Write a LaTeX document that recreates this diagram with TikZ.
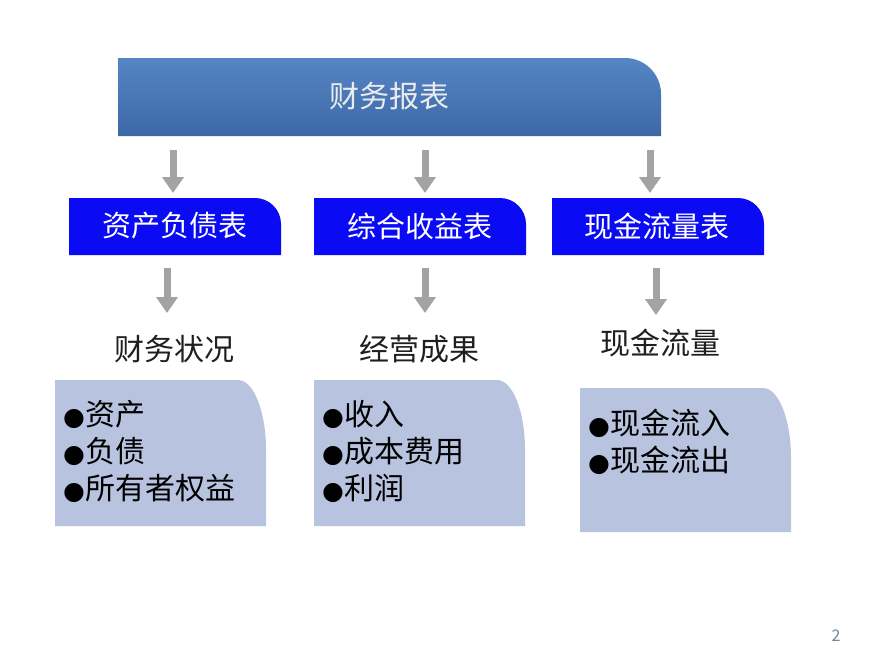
\documentclass[tikz,border=0pt]{standalone}
\usepackage{fontspec}
\setmainfont{Noto Sans CJK SC}
\newfontfamily\bulletfont{DejaVu Sans}
\usetikzlibrary{arrows.meta}
\definecolor{topA}{HTML}{5585C5}
\definecolor{topB}{HTML}{3D68A6}
\definecolor{boxblue}{HTML}{0A0AF5}
\definecolor{lightbox}{HTML}{B8C4DF}
\definecolor{arrgray}{HTML}{A3A3A3}
\definecolor{pagenum}{HTML}{7585A0}
\tikzset{
  arr/.style={draw=arrgray, line width=7pt, -{Triangle[width=21pt,length=16pt]}},
  headtxt/.style={text=white, font=\fontsize{29}{32}\selectfont, anchor=center},
  labeltxt/.style={text=black!88, font=\fontsize{30}{32}\selectfont, anchor=center},
  itemtxt/.style={text=black, font=\fontsize{30}{37}\selectfont, anchor=north west, align=left, inner sep=0pt},
}
\newcommand{\bul}{{\bulletfont\fontsize{25}{28}\selectfont ●}}
\begin{document}
\begin{tikzpicture}[x=1pt,y=-1pt]
\useasboundingbox (0,0) rectangle (896,667);
\fill[white] (0,0) rectangle (896,667);
% top bar
\shade[top color=topA, bottom color=topB] (118,136) -- (118,58) [rounded corners=36pt] -- (661,58) [sharp corners] -- (661,136) -- cycle;
\node[headtxt, text=white!92!black, font=\fontsize{30}{32}\selectfont] (top) at (389,96) {财务报表};
% blue boxes
\foreach \x/\n in {69/b1, 314/b2, 552/b3}{
  \fill[boxblue] (\x,255) -- (\x,198) [rounded corners=26pt] -- (\x+212,198) [sharp corners] -- (\x+212,255) -- cycle;
}
\node[headtxt] (h1) at (175,226) {资产负债表};
\node[headtxt] (h2) at (420,226) {综合收益表};
\node[headtxt] (h3) at (657,226) {现金流量表};
% arrows level 1
\coordinate (a1s) at (173,150); \coordinate (a1e) at (173,193);
\coordinate (a2s) at (425,150); \coordinate (a2e) at (425,193);
\coordinate (a3s) at (650,150); \coordinate (a3e) at (650,193);
\draw[arr] (a1s) -- (a1e);
\draw[arr] (a2s) -- (a2e);
\draw[arr] (a3s) -- (a3e);
% arrows level 2
\coordinate (c1s) at (167,268); \coordinate (c1e) at (167,313);
\coordinate (c2s) at (425,268); \coordinate (c2e) at (425,313);
\coordinate (c3s) at (656,268); \coordinate (c3e) at (656,315);
\draw[arr] (c1s) -- (c1e);
\draw[arr] (c2s) -- (c2e);
\draw[arr] (c3s) -- (c3e);
% labels
\node[labeltxt] (l1) at (174,349) {财务状况};
\node[labeltxt] (l2) at (419,349) {经营成果};
\node[labeltxt] (l3) at (660,343) {现金流量};
% light boxes
\fill[lightbox] (55,526) -- (55,380) -- (238,380) .. controls (253.5,380) and (266,411) .. (266,450) -- (266,526) -- cycle;
\fill[lightbox] (314,526) -- (314,380) -- (497,380) .. controls (512.5,380) and (525,411) .. (525,450) -- (525,526) -- cycle;
\fill[lightbox] (580,532) -- (580,388) -- (763,388) .. controls (778.5,388) and (791,419) .. (791,458) -- (791,532) -- cycle;
\node[itemtxt] (i1) at (63,400) {\bul 资产\\\bul 负债\\\bul 所有者权益};
\node[itemtxt] (i2) at (322,400) {\bul 收入\\\bul 成本费用\\\bul 利润};
\node[itemtxt] (i3) at (588,409) {\bul 现金流入\\\bul 现金流出};
% page number
\node[text=pagenum, font=\fontsize{16}{18}\selectfont] (pg) at (836,636) {2};
\end{tikzpicture}
\end{document}
